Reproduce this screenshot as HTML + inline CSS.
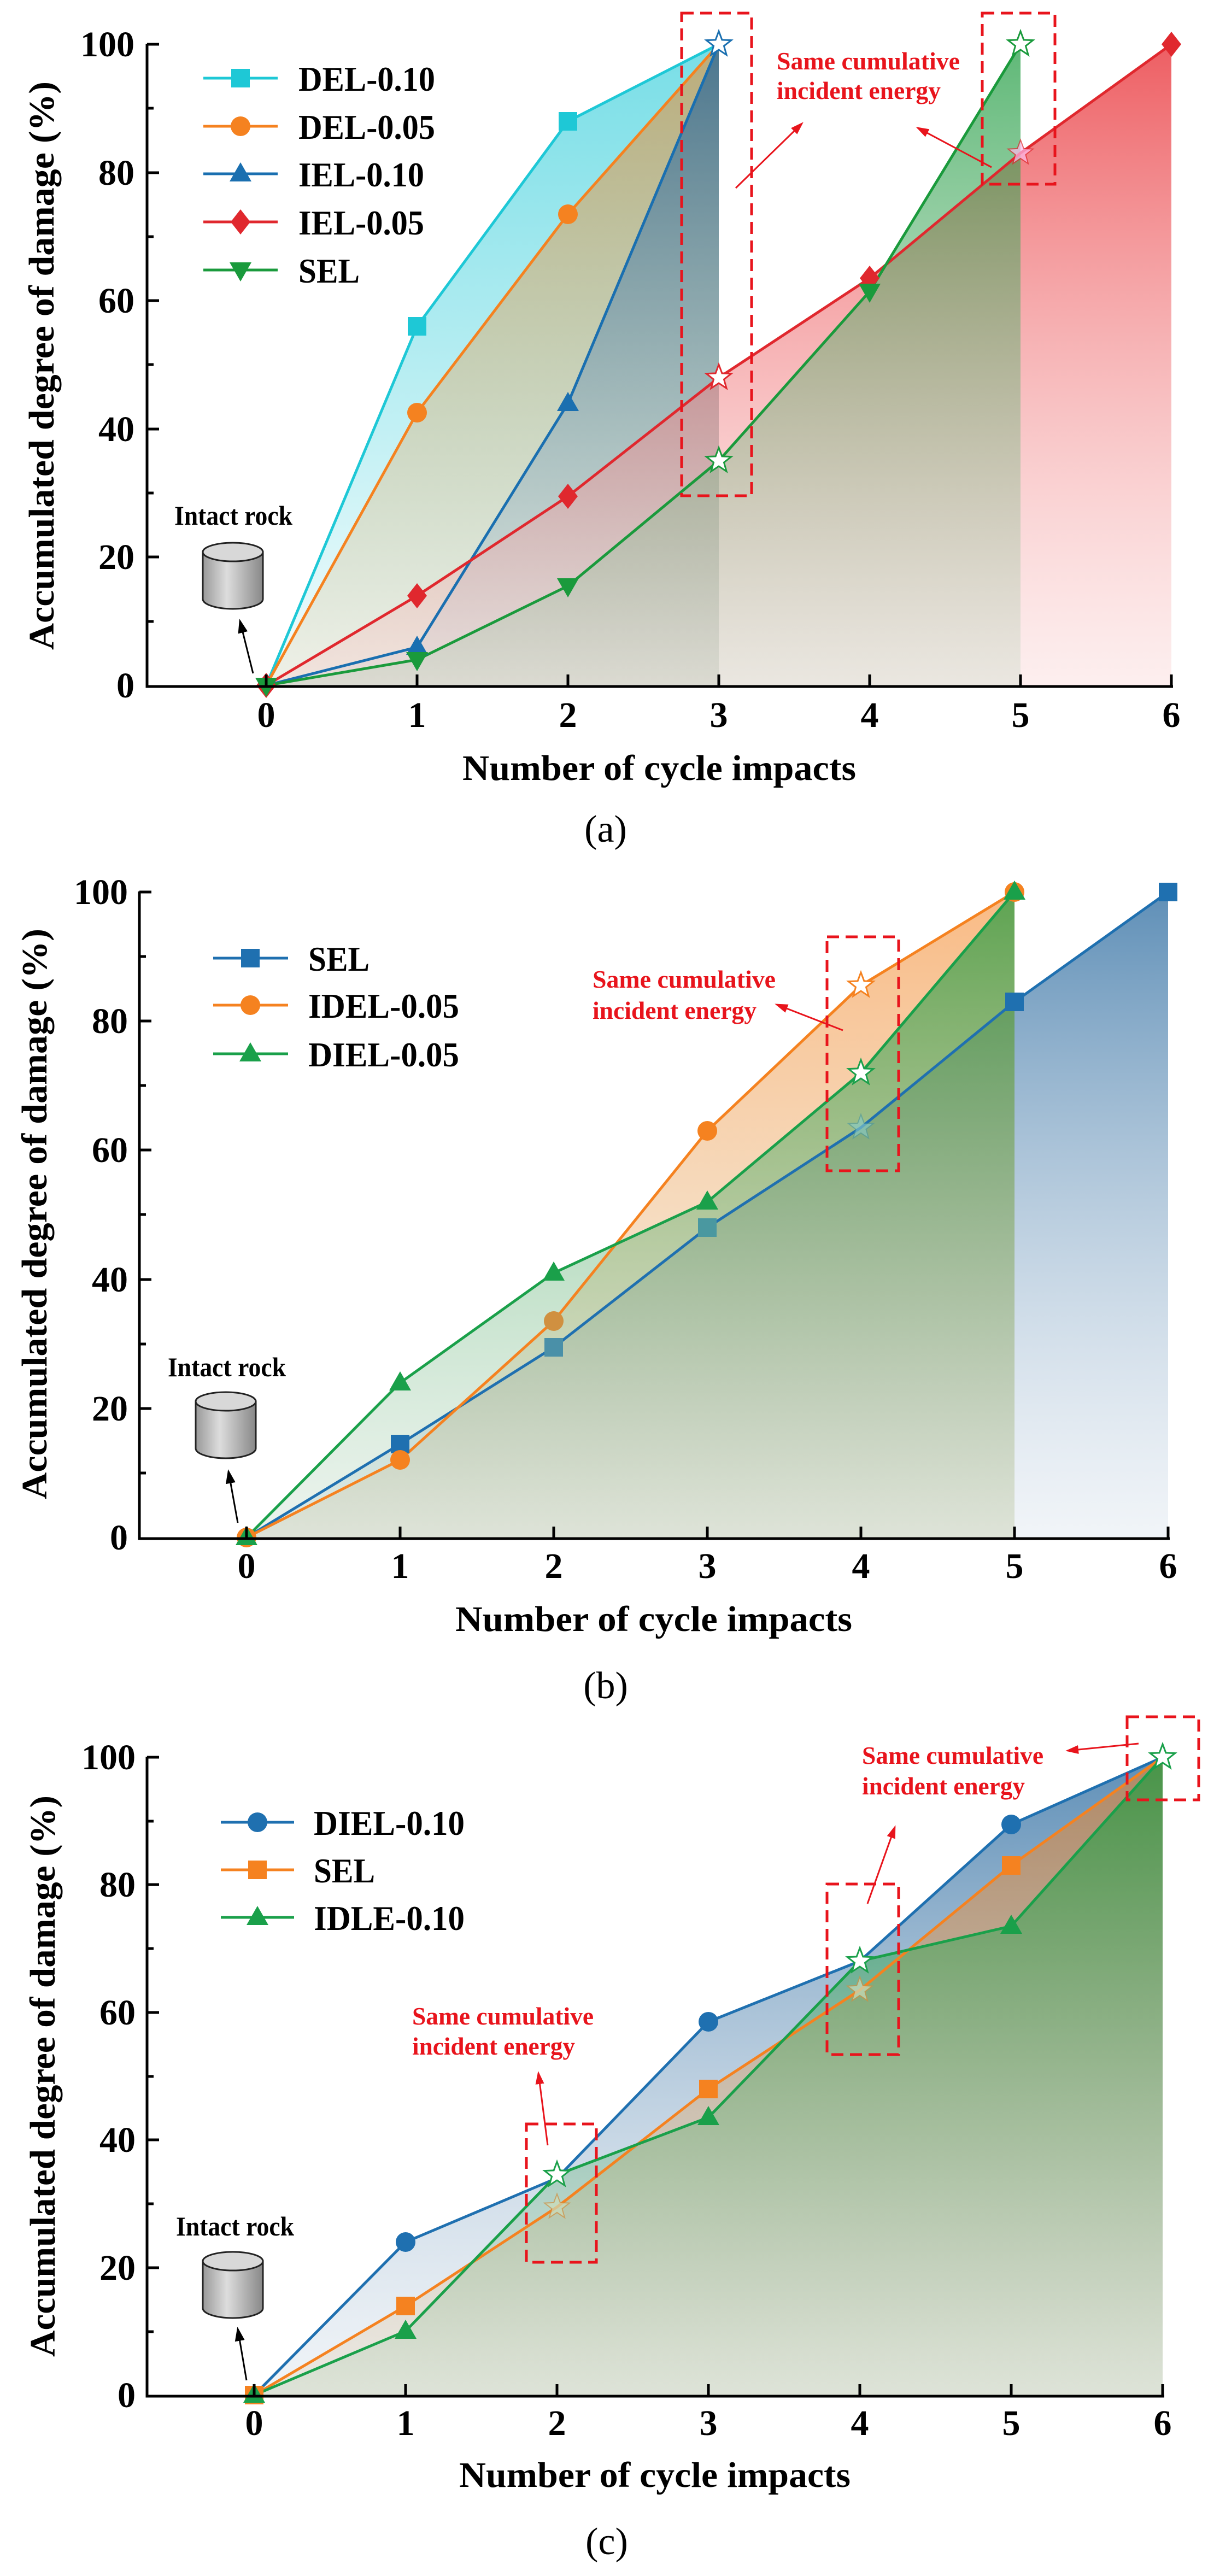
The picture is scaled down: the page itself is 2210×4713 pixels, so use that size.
<!DOCTYPE html>
<html><head><meta charset="utf-8"><style>
html,body{margin:0;padding:0;background:#fff}
svg{display:block}
text{font-family:"Liberation Serif",serif;font-weight:bold}
</style></head><body>
<svg width="2210" height="4713" viewBox="0 0 2210 4713" xmlns="http://www.w3.org/2000/svg">
<defs>
<linearGradient id="gC" x1="0" y1="0" x2="0" y2="1"><stop offset="0" stop-color="#1ec8d6" stop-opacity=".6"/><stop offset="1" stop-color="#1ec8d6" stop-opacity=".05"/></linearGradient>
<linearGradient id="gO" x1="0" y1="0" x2="0" y2="1"><stop offset="0" stop-color="#f58220" stop-opacity=".55"/><stop offset="1" stop-color="#d8b070" stop-opacity=".15"/></linearGradient>
<linearGradient id="gB" x1="0" y1="0" x2="0" y2="1"><stop offset="0" stop-color="#1a5f98" stop-opacity=".7"/><stop offset="1" stop-color="#a0b8d0" stop-opacity=".15"/></linearGradient>
<linearGradient id="gR" x1="0" y1="0" x2="0" y2="1"><stop offset="0" stop-color="#e8282e" stop-opacity=".75"/><stop offset="1" stop-color="#f8c8c8" stop-opacity=".3"/></linearGradient>
<linearGradient id="gG" x1="0" y1="0" x2="0" y2="1"><stop offset="0" stop-color="#1a9a3c" stop-opacity=".7"/><stop offset="1" stop-color="#a0c8a8" stop-opacity=".2"/></linearGradient>
<linearGradient id="cyl" x1="0" y1="0" x2="1" y2="0"><stop offset="0" stop-color="#999"/><stop offset=".4" stop-color="#ddd"/><stop offset="1" stop-color="#888"/></linearGradient>
<path id="st" d="M0,-24L5.9,-8.1L22.8,-7.4L9.5,3.1L14.1,19.4L0,10L-14.1,19.4L-9.5,3.1L-22.8,-7.4L-5.9,-8.1Z"/>
<path id="sq" d="M-17,-17h34v34h-34z"/>
<circle id="ci" r="18"/>
<path id="tr" d="M0,-21L20,14H-20z"/>
<path id="di" d="M0,-23L18,0L0,23L-18,0z"/>
<path id="it" d="M0,21L20,-14H-20z"/>
<marker id="ahr" markerWidth="24" markerHeight="24" refX="20" refY="12" orient="auto" markerUnits="userSpaceOnUse" viewBox="0 0 24 24"><path d="M0,4L24,12L0,20z" fill="#e8141c"/></marker>
<marker id="ahk" markerWidth="26" markerHeight="26" refX="22" refY="13" orient="auto" markerUnits="userSpaceOnUse" viewBox="0 0 26 26"><path d="M0,4L26,13L0,22z" fill="#000"/></marker>
<g id="rock">
<path d="M0,18 L0,104 A55,18 0 0 0 110,104 L110,18 Z" fill="url(#cyl)" stroke="#222" stroke-width="3"/>
<ellipse cx="55" cy="18" rx="55" ry="17" fill="#d8d8d8" stroke="#222" stroke-width="3"/>
</g>
</defs>

<!-- ================= PANEL A ================= -->
<g>
<polygon points="487,1254 763,597 1039,222 1315,81 1315,1254" fill="url(#gC)"/>
<polygon points="487,1254 763,755 1039,392 1315,81 1315,1254" fill="url(#gO)"/>
<polygon points="487,1254 763,1184 1039,738 1315,81 1315,1254" fill="url(#gB)"/>
<polygon points="487,1254 763,1090 1039,908 1315,691 1591,509 1867,280 2143,81 2143,1254" fill="url(#gR)"/>
<polygon points="487,1254 763,1207 1039,1072 1315,843 1591,533 1867,81 1867,1254" fill="url(#gG)"/>
<g fill="none" stroke-width="5" stroke-linejoin="round">
<polyline points="487,1254 763,597 1039,222 1315,81" stroke="#1ec8d6"/>
<polyline points="487,1254 763,755 1039,392 1315,81" stroke="#f58220"/>
<polyline points="487,1254 763,1184 1039,738 1315,81" stroke="#1a6fb0"/>
<polyline points="487,1254 763,1090 1039,908 1315,691 1591,509 1867,280 2143,81" stroke="#e0282e"/>
<polyline points="487,1254 763,1207 1039,1072 1315,843 1591,533 1867,81" stroke="#1a9a3c"/>
</g>
<use href="#sq" x="763" y="597" fill="#1ec8d6"/><use href="#sq" x="1039" y="222" fill="#1ec8d6"/>
<use href="#ci" x="763" y="755" fill="#f58220"/><use href="#ci" x="1039" y="392" fill="#f58220"/>
<use href="#tr" x="763" y="1184" fill="#1a6fb0"/><use href="#tr" x="1039" y="738" fill="#1a6fb0"/>
<use href="#di" x="763" y="1090" fill="#e0282e"/><use href="#di" x="1039" y="908" fill="#e0282e"/><use href="#di" x="1591" y="509" fill="#e0282e"/><use href="#di" x="2143" y="81" fill="#e0282e"/><use href="#di" x="487" y="1254" fill="#e0282e"/>
<use href="#it" x="763" y="1207" fill="#1a9a3c"/><use href="#it" x="1039" y="1072" fill="#1a9a3c"/><use href="#it" x="1591" y="533" fill="#1a9a3c"/><use href="#it" x="487" y="1254" fill="#1a9a3c"/>
<use href="#st" x="1315" y="81" fill="#fff" stroke="#1a6fb0" stroke-width="3"/>
<use href="#st" x="1315" y="691" fill="#fff" stroke="#e0282e" stroke-width="3"/>
<use href="#st" x="1867" y="280" fill="#fbe" stroke="#e0282e" stroke-width="2" opacity=".7"/>
<use href="#st" x="1315" y="843" fill="#fff" stroke="#1a9a3c" stroke-width="3"/>
<use href="#st" x="1867" y="81" fill="#fff" stroke="#1a9a3c" stroke-width="3"/>
<g stroke="#000" stroke-width="5" fill="none">
<path d="M269,80V1256H2146"/>
<path d="M269,81h22M269,316h22M269,550h22M269,785h22M269,1019h22M269,198h12M269,433h12M269,667h12M269,902h12M269,1137h12"/>
<path d="M487,1254v-20M763,1254v-20M1039,1254v-20M1315,1254v-20M1591,1254v-20M1867,1254v-20M2143,1254v-20"/>
</g>
<g font-size="66" text-anchor="end">
<text x="246" y="103">100</text><text x="246" y="338">80</text><text x="246" y="572">60</text><text x="246" y="807">40</text><text x="246" y="1041">20</text><text x="246" y="1276">0</text>
</g>
<g font-size="66" text-anchor="middle">
<text x="487" y="1330">0</text><text x="763" y="1330">1</text><text x="1039" y="1330">2</text><text x="1315" y="1330">3</text><text x="1591" y="1330">4</text><text x="1867" y="1330">5</text><text x="2143" y="1330">6</text>
</g>
<text x="846" y="1427" font-size="66" textLength="720" lengthAdjust="spacingAndGlyphs">Number of cycle impacts</text>
<text transform="translate(98,1189) rotate(-90)" font-size="66" textLength="1040" lengthAdjust="spacingAndGlyphs">Accumulated degree of damage (%)</text>
<g stroke-width="5">
<line x1="372" y1="143" x2="508" y2="143" stroke="#1ec8d6"/><use href="#sq" x="440" y="143" fill="#1ec8d6"/>
<line x1="372" y1="231" x2="508" y2="231" stroke="#f58220"/><use href="#ci" x="440" y="231" fill="#f58220"/>
<line x1="372" y1="318" x2="508" y2="318" stroke="#1a6fb0"/><use href="#tr" x="440" y="318" fill="#1a6fb0"/>
<line x1="372" y1="406" x2="508" y2="406" stroke="#e0282e"/><use href="#di" x="440" y="406" fill="#e0282e"/>
<line x1="372" y1="494" x2="508" y2="494" stroke="#1a9a3c"/><use href="#it" x="440" y="494" fill="#1a9a3c"/>
</g>
<g font-size="64">
<text x="546" y="166" textLength="250" lengthAdjust="spacingAndGlyphs">DEL-0.10</text>
<text x="546" y="254" textLength="250" lengthAdjust="spacingAndGlyphs">DEL-0.05</text>
<text x="546" y="341" textLength="230" lengthAdjust="spacingAndGlyphs">IEL-0.10</text>
<text x="546" y="429" textLength="230" lengthAdjust="spacingAndGlyphs">IEL-0.05</text>
<text x="546" y="517" textLength="112" lengthAdjust="spacingAndGlyphs">SEL</text>
</g>
<g fill="none" stroke="#e8141c" stroke-width="5" stroke-dasharray="22,12">
<rect x="1247" y="24" width="128" height="883"/>
<rect x="1797" y="24" width="133" height="313"/>
</g>
<g fill="#e8141c" font-size="46">
<text x="1421" y="127" textLength="335" lengthAdjust="spacingAndGlyphs">Same cumulative</text>
<text x="1421" y="181" textLength="300" lengthAdjust="spacingAndGlyphs">incident energy</text>
</g>
<g stroke="#e8141c" stroke-width="3">
<line x1="1346" y1="344" x2="1467" y2="226" marker-end="url(#ahr)"/>
<line x1="1814" y1="306" x2="1679" y2="234" marker-end="url(#ahr)"/>
</g>
<text x="319" y="960" font-size="50" textLength="216" lengthAdjust="spacingAndGlyphs">Intact rock</text>
<use href="#rock" x="371" y="992"/>
<line x1="463" y1="1232" x2="439" y2="1136" stroke="#000" stroke-width="3" marker-end="url(#ahk)"/>
<text x="1108" y="1540" font-size="70" style="font-weight:normal" text-anchor="middle">(a)</text>
</g>

<!-- ================= PANEL B ================= -->
<g>
<polygon points="451,2813 732,2642 1013,2465 1294,2246 1575,2063 1856,1833 2137,1632 2137,2813" fill="url(#gB)"/>
<polygon points="451,2813 732,2671 1013,2417 1294,2069 1575,1803 1856,1632 1856,2813" fill="url(#gO)"/>
<polygon points="451,2813 732,2530 1013,2329 1294,2199 1575,1963 1856,1632 1856,2813" fill="url(#gG)"/>
<g fill="none" stroke-width="5" stroke-linejoin="round">
<polyline points="451,2813 732,2642 1013,2465 1294,2246 1575,2063 1856,1833 2137,1632" stroke="#1f70b0"/>
<polyline points="451,2813 732,2671 1013,2417 1294,2069 1575,1803 1856,1632" stroke="#f58220"/>
<polyline points="451,2813 732,2530 1013,2329 1294,2199 1575,1963 1856,1632" stroke="#1aa04a"/>
</g>
<use href="#sq" x="732" y="2642" fill="#1f70b0"/><use href="#sq" x="1013" y="2465" fill="#4a90a8"/><use href="#sq" x="1294" y="2246" fill="#4a98a0"/><use href="#sq" x="1856" y="1833" fill="#1f70b0"/><use href="#sq" x="2137" y="1632" fill="#1f70b0"/>
<use href="#ci" x="732" y="2671" fill="#f58220"/><use href="#ci" x="1013" y="2417" fill="#d09040"/><use href="#ci" x="1294" y="2069" fill="#f58220"/><use href="#ci" x="1856" y="1632" fill="#f58220"/><use href="#ci" x="451" y="2813" fill="#f58220"/>
<use href="#tr" x="732" y="2530" fill="#1aa04a"/><use href="#tr" x="1013" y="2329" fill="#1aa04a"/><use href="#tr" x="1294" y="2199" fill="#1aa04a"/><use href="#tr" x="1856" y="1632" fill="#1aa04a"/><use href="#tr" x="451" y="2813" fill="#1aa04a"/>
<use href="#st" x="1575" y="1803" fill="#fff" stroke="#f58220" stroke-width="3"/>
<use href="#st" x="1575" y="1963" fill="#fff" stroke="#1aa04a" stroke-width="3"/>
<use href="#st" x="1575" y="2063" fill="#8cc" stroke="#4a98a0" stroke-width="2" opacity=".6"/>
<g stroke="#000" stroke-width="5" fill="none">
<path d="M255,1631V2815H2140"/>
<path d="M255,1632h22M255,1868h22M255,2104h22M255,2341h22M255,2577h22M255,1750h12M255,1986h12M255,2222h12M255,2459h12M255,2695h12"/>
<path d="M451,2813v-20M732,2813v-20M1013,2813v-20M1294,2813v-20M1575,2813v-20M1856,2813v-20M2137,2813v-20"/>
</g>
<g font-size="66" text-anchor="end">
<text x="234" y="1654">100</text><text x="234" y="1890">80</text><text x="234" y="2126">60</text><text x="234" y="2363">40</text><text x="234" y="2599">20</text><text x="234" y="2835">0</text>
</g>
<g font-size="66" text-anchor="middle">
<text x="451" y="2887">0</text><text x="732" y="2887">1</text><text x="1013" y="2887">2</text><text x="1294" y="2887">3</text><text x="1575" y="2887">4</text><text x="1856" y="2887">5</text><text x="2137" y="2887">6</text>
</g>
<text x="833" y="2984" font-size="66" textLength="726" lengthAdjust="spacingAndGlyphs">Number of cycle impacts</text>
<text transform="translate(85,2743) rotate(-90)" font-size="66" textLength="1044" lengthAdjust="spacingAndGlyphs">Accumulated degree of damage (%)</text>
<g stroke-width="5">
<line x1="390" y1="1753" x2="527" y2="1753" stroke="#1f70b0"/><use href="#sq" x="458" y="1753" fill="#1f70b0"/>
<line x1="390" y1="1839" x2="527" y2="1839" stroke="#f58220"/><use href="#ci" x="458" y="1839" fill="#f58220"/>
<line x1="390" y1="1928" x2="527" y2="1928" stroke="#1aa04a"/><use href="#tr" x="458" y="1928" fill="#1aa04a"/>
</g>
<g font-size="64">
<text x="564" y="1776" textLength="112" lengthAdjust="spacingAndGlyphs">SEL</text>
<text x="564" y="1862" textLength="276" lengthAdjust="spacingAndGlyphs">IDEL-0.05</text>
<text x="564" y="1951" textLength="276" lengthAdjust="spacingAndGlyphs">DIEL-0.05</text>
</g>
<rect x="1513" y="1714" width="131" height="428" fill="none" stroke="#e8141c" stroke-width="5" stroke-dasharray="22,12"/>
<g fill="#e8141c" font-size="46">
<text x="1084" y="1807" textLength="335" lengthAdjust="spacingAndGlyphs">Same cumulative</text>
<text x="1084" y="1864" textLength="300" lengthAdjust="spacingAndGlyphs">incident energy</text>
</g>
<line x1="1542" y1="1885" x2="1421" y2="1838" stroke="#e8141c" stroke-width="3" marker-end="url(#ahr)"/>
<text x="307" y="2518" font-size="50" textLength="216" lengthAdjust="spacingAndGlyphs">Intact rock</text>
<use href="#rock" x="358" y="2546"/>
<line x1="435" y1="2786" x2="418" y2="2692" stroke="#000" stroke-width="3" marker-end="url(#ahk)"/>
<text x="1108" y="3107" font-size="70" style="font-weight:normal" text-anchor="middle">(b)</text>
</g>

<!-- ================= PANEL C ================= -->
<g>
<polygon points="465,4382 742,4102 1019,3985 1296,3699 1573,3588 1850,3338 2127,3215 2127,4382" fill="url(#gB)"/>
<polygon points="465,4382 742,4219 1019,4038 1296,3822 1573,3641 1850,3413 2127,3215 2127,4382" fill="url(#gO)"/>
<polygon points="465,4382 742,4265 1019,3979 1296,3874 1573,3588 1850,3524 2127,3215 2127,4382" fill="url(#gG)"/>
<g fill="none" stroke-width="5" stroke-linejoin="round">
<polyline points="465,4382 742,4102 1019,3985 1296,3699 1573,3588 1850,3338 2127,3215" stroke="#1f70b0"/>
<polyline points="465,4382 742,4219 1019,4038 1296,3822 1573,3641 1850,3413 2127,3215" stroke="#f58220"/>
<polyline points="465,4382 742,4265 1019,3979 1296,3874 1573,3588 1850,3524 2127,3215" stroke="#1aa04a"/>
</g>
<use href="#ci" x="742" y="4102" fill="#1f70b0"/><use href="#ci" x="1296" y="3699" fill="#1f70b0"/><use href="#ci" x="1850" y="3338" fill="#1f70b0"/>
<use href="#sq" x="742" y="4219" fill="#f58220"/><use href="#sq" x="1296" y="3822" fill="#f58220"/><use href="#sq" x="1850" y="3413" fill="#f58220"/><use href="#sq" x="465" y="4382" fill="#f58220"/>
<use href="#tr" x="742" y="4265" fill="#1aa04a"/><use href="#tr" x="1296" y="3874" fill="#1aa04a"/><use href="#tr" x="1850" y="3524" fill="#1aa04a"/><use href="#tr" x="465" y="4382" fill="#1aa04a"/>
<use href="#st" x="1019" y="4038" fill="#cdb" stroke="#d09040" stroke-width="2" opacity=".7"/>
<use href="#st" x="1019" y="3979" fill="#fff" stroke="#1aa04a" stroke-width="3"/>
<use href="#st" x="1573" y="3641" fill="#cdb" stroke="#d09040" stroke-width="2" opacity=".7"/>
<use href="#st" x="1573" y="3588" fill="#fff" stroke="#1aa04a" stroke-width="3"/>
<use href="#st" x="2127" y="3215" fill="#fff" stroke="#1aa04a" stroke-width="3"/>
<g stroke="#000" stroke-width="5" fill="none">
<path d="M269,3214V4384H2130"/>
<path d="M269,3215h22M269,3448h22M269,3682h22M269,3915h22M269,4149h22M269,3332h12M269,3565h12M269,3799h12M269,4032h12M269,4266h12"/>
<path d="M465,4382v-20M742,4382v-20M1019,4382v-20M1296,4382v-20M1573,4382v-20M1850,4382v-20M2127,4382v-20"/>
</g>
<g font-size="66" text-anchor="end">
<text x="248" y="3237">100</text><text x="248" y="3470">80</text><text x="248" y="3704">60</text><text x="248" y="3937">40</text><text x="248" y="4171">20</text><text x="248" y="4404">0</text>
</g>
<g font-size="66" text-anchor="middle">
<text x="465" y="4455">0</text><text x="742" y="4455">1</text><text x="1019" y="4455">2</text><text x="1296" y="4455">3</text><text x="1573" y="4455">4</text><text x="1850" y="4455">5</text><text x="2127" y="4455">6</text>
</g>
<text x="840" y="4550" font-size="66" textLength="716" lengthAdjust="spacingAndGlyphs">Number of cycle impacts</text>
<text transform="translate(100,4312) rotate(-90)" font-size="66" textLength="1027" lengthAdjust="spacingAndGlyphs">Accumulated degree of damage (%)</text>
<g stroke-width="5">
<line x1="404" y1="3334" x2="538" y2="3334" stroke="#1f70b0"/><use href="#ci" x="471" y="3334" fill="#1f70b0"/>
<line x1="404" y1="3421" x2="538" y2="3421" stroke="#f58220"/><use href="#sq" x="471" y="3421" fill="#f58220"/>
<line x1="404" y1="3508" x2="538" y2="3508" stroke="#1aa04a"/><use href="#tr" x="471" y="3508" fill="#1aa04a"/>
</g>
<g font-size="64">
<text x="574" y="3357" textLength="276" lengthAdjust="spacingAndGlyphs">DIEL-0.10</text>
<text x="574" y="3444" textLength="112" lengthAdjust="spacingAndGlyphs">SEL</text>
<text x="574" y="3531" textLength="276" lengthAdjust="spacingAndGlyphs">IDLE-0.10</text>
</g>
<g fill="none" stroke="#e8141c" stroke-width="5" stroke-dasharray="22,12">
<rect x="963" y="3886" width="128" height="253"/>
<rect x="1513" y="3447" width="131" height="312"/>
<rect x="2062" y="3141" width="131" height="152"/>
</g>
<g fill="#e8141c" font-size="46">
<text x="754" y="3704" textLength="332" lengthAdjust="spacingAndGlyphs">Same cumulative</text>
<text x="754" y="3759" textLength="298" lengthAdjust="spacingAndGlyphs">incident energy</text>
<text x="1577" y="3227" textLength="332" lengthAdjust="spacingAndGlyphs">Same cumulative</text>
<text x="1577" y="3283" textLength="298" lengthAdjust="spacingAndGlyphs">incident energy</text>
</g>
<g stroke="#e8141c" stroke-width="3">
<line x1="1002" y1="3925" x2="985" y2="3793" marker-end="url(#ahr)"/>
<line x1="1587" y1="3483" x2="1637" y2="3343" marker-end="url(#ahr)"/>
<line x1="2083" y1="3190" x2="1953" y2="3203" marker-end="url(#ahr)"/>
</g>
<text x="322" y="4090" font-size="50" textLength="216" lengthAdjust="spacingAndGlyphs">Intact rock</text>
<use href="#rock" x="371" y="4119"/>
<line x1="451" y1="4355" x2="435" y2="4261" stroke="#000" stroke-width="3" marker-end="url(#ahk)"/>
<text x="1110" y="4673" font-size="70" style="font-weight:normal" text-anchor="middle">(c)</text>
</g>
</svg>
</body></html>
